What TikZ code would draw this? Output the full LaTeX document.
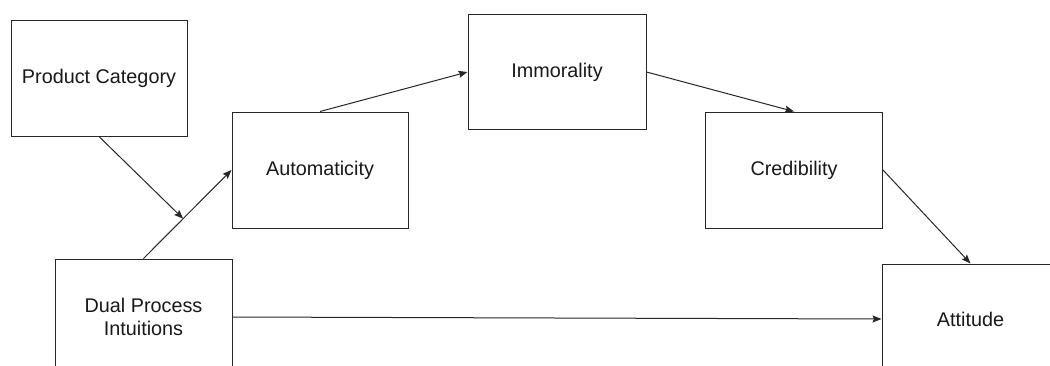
\documentclass[tikz,border=0pt]{standalone}
\usepackage{fontspec}
\setmainfont{Liberation Sans}
\usetikzlibrary{arrows.meta}
\begin{document}
\begin{tikzpicture}[x=1pt,y=-1pt,
  box/.style={draw=black!85, line width=1pt, fill=white, minimum width=177pt, minimum height=116pt,
    inner sep=0pt, align=center, text=black!90, font=\fontsize{19.8}{23}\selectfont},
  conn/.style={draw=black!85, line width=1pt, -{Stealth[length=9pt,width=7pt,inset=1.5pt]}}]
\clip (0,0) rectangle (1050,365);
\useasboundingbox (0,0) rectangle (1050,365);
\node[box, minimum width=176pt] (prod) at (99,78) {Product Category};
\node[box, minimum width=176pt] (auto) at (320,170) {Automaticity};
\node[box, minimum width=178pt, minimum height=115pt] (imm) at (557,72) {Immorality};
\node[box] (cred) at (794,170) {Credibility};
\node[box] (dual) at (143.5,317) {Dual Process\\Intuitions};
\node[box, minimum height=110pt] (att) at (970.5,319) {Attitude};
\draw[conn] (dual.north) -- coordinate[pos=0.45] (mid) (auto.west);
\draw[conn] (prod.south) -- (mid);
\draw[conn] (auto.north) -- (imm.west);
\draw[conn] (imm.east) -- (cred.north);
\draw[conn] (cred.east) -- (att.north);
\draw[conn] (dual.east) -- (att.west);
\end{tikzpicture}
\end{document}
